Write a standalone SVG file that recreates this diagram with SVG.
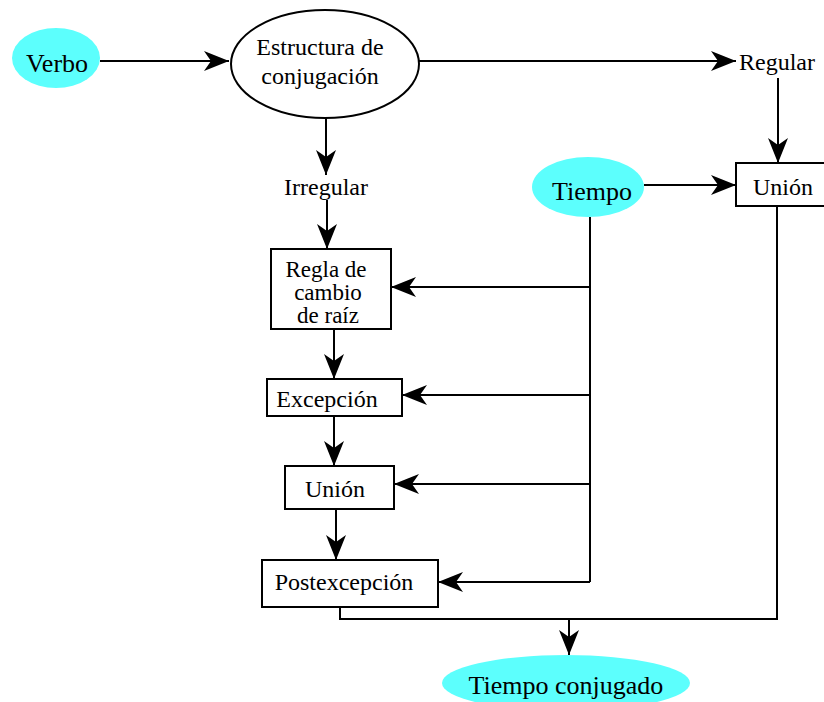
<svg xmlns="http://www.w3.org/2000/svg" width="824" height="702" viewBox="0 0 824 702">
<style>
text{fill:#000;text-anchor:middle}
.t{font-size:24px}
.s{font-size:23px}
.c{font-size:26px}
.box{fill:#fff;stroke:#000;stroke-width:2}
.cy{fill:#5cfffd;stroke:none}
.conn path{fill:none;stroke:#000;stroke-width:2}
</style>
<defs>
<marker id="ah" markerUnits="userSpaceOnUse" markerWidth="26" markerHeight="20" refX="25" refY="10" orient="auto" viewBox="0 0 26 20">
<path d="M25,10 L0,0 L7,10 L0,20 Z" fill="#000"/>
</marker>
</defs>
<rect width="824" height="702" fill="#fff"/>
<g class="conn">
<path d="M100,61 H229" marker-end="url(#ah)"/>
<path d="M419,61 H736" marker-end="url(#ah)"/>
<path d="M778,78 V163" marker-end="url(#ah)"/>
<path d="M644,185 H736" marker-end="url(#ah)"/>
<path d="M326,118 V175" marker-end="url(#ah)"/>
<path d="M327,200 V249" marker-end="url(#ah)"/>
<path d="M590,217 V582"/>
<path d="M590,287 H391" marker-end="url(#ah)"/>
<path d="M590,395 H402" marker-end="url(#ah)"/>
<path d="M590,484 H394" marker-end="url(#ah)"/>
<path d="M590,582 H438" marker-end="url(#ah)"/>
<path d="M334,329 V379" marker-end="url(#ah)"/>
<path d="M334,416 V466" marker-end="url(#ah)"/>
<path d="M336,509 V560" marker-end="url(#ah)"/>
<path d="M340,607 V619 H777 V206"/>
<path d="M569,619 V655" marker-end="url(#ah)"/>
</g>
<g font-family="'Liberation Serif', 'Times New Roman', serif">
<g id="verbo">
<ellipse class="cy" cx="56" cy="58" rx="44" ry="30"/>
<text class="c" x="57" y="72">Verbo</text>
</g>
<g id="estructura">
<ellipse cx="325" cy="64" rx="94" ry="54" fill="#fff" stroke="#000" stroke-width="2"/>
<text class="t" x="320" y="55">Estructura de</text>
<text class="t" x="320" y="84">conjugación</text>
</g>
<g id="regular">
<text class="t" x="777" y="70">Regular</text>
</g>
<g id="irregular">
<text class="t" x="326" y="195">Irregular</text>
</g>
<g id="tiempo">
<ellipse class="cy" cx="588" cy="187" rx="56" ry="30"/>
<text class="c" x="592" y="200">Tiempo</text>
</g>
<g id="union-r">
<rect class="box" x="736" y="163" width="96" height="43"/>
<text class="t" x="783" y="195">Unión</text>
</g>
<g id="regla">
<rect class="box" x="271" y="249" width="120" height="80"/>
<text class="s" x="326" y="277">Regla de</text>
<text class="s" x="328" y="300">cambio</text>
<text class="s" x="328" y="323">de raíz</text>
</g>
<g id="excepcion">
<rect class="box" x="267" y="379" width="135" height="37"/>
<text class="t" x="327" y="407">Excepción</text>
</g>
<g id="union-l">
<rect class="box" x="285" y="466" width="109" height="43"/>
<text class="t" x="335" y="497">Unión</text>
</g>
<g id="postexcepcion">
<rect class="box" x="262" y="560" width="176" height="47"/>
<text class="t" x="344" y="590">Postexcepción</text>
</g>
<g id="tiempo-conjugado">
<ellipse class="cy" cx="566" cy="683" rx="124" ry="28"/>
<text class="c" x="566" y="694">Tiempo conjugado</text>
</g>
</g>
</svg>
